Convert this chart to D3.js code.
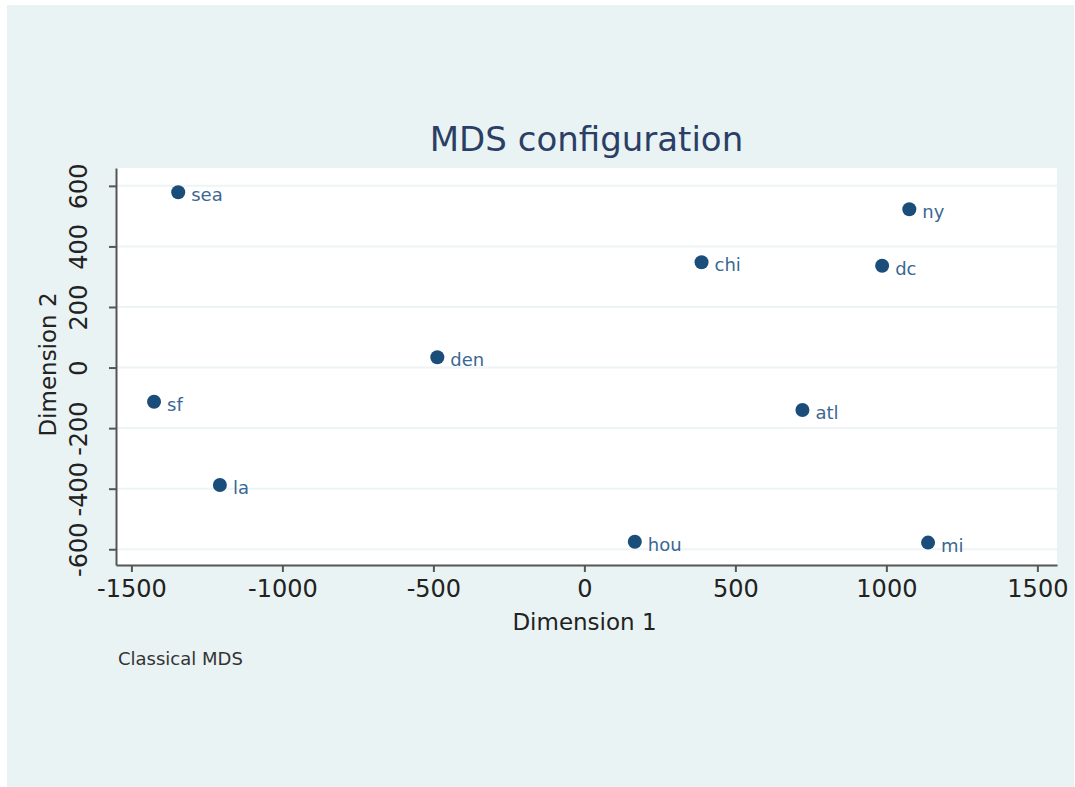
<!DOCTYPE html>
<html>
<head>
<meta charset="utf-8">
<script src="https://cdn.jsdelivr.net/npm/d3@7"></script>
<style>
  body { margin: 0; background: #ffffff; }
  text { font-family: "DejaVu Sans", sans-serif; }
</style>
</head>
<body>
<div id="chart"></div>
<script>
// MDS coordinates
var cities = ["sea", "sf", "la", "den", "chi", "ny", "dc", "atl", "hou", "mi"];
var dim1 = [-1345, -1425, -1207, -487, 388, 1076, 986, 722, 167, 1138];
var dim2 = [579, -113, -388, 34, 348, 523, 336, -140, -575, -578];

var xTicks = [-1500, -1000, -500, 0, 500, 1000, 1500];
var yTicks = [-600, -400, -200, 0, 200, 400, 600];

var w = 1075, h = 787;
var plot = {left: 116, right: 1057, top: 168, bottom: 565};

var svg = d3.select("#chart")
  .append("svg")
  .attr("width", w)
  .attr("height", h);

// outer graph region
svg.append("rect")
  .attr("x", 7).attr("y", 5)
  .attr("width", 1067).attr("height", 782)
  .style("fill", "#eaf3f3");

// plot region
svg.append("rect")
  .attr("x", plot.left).attr("y", plot.top)
  .attr("width", plot.right - plot.left)
  .attr("height", plot.bottom - plot.top)
  .style("fill", "#ffffff");

var x = d3.scaleLinear()
  .domain([-1551, 1565])
  .range([plot.left, plot.right]);

var y = d3.scaleLinear()
  .domain([-652, 659])
  .range([plot.bottom, plot.top]);

var fmt = function(d) { return String(d); };

// horizontal grid
svg.selectAll(".grid")
  .data(yTicks)
  .enter()
  .append("line")
  .attr("x1", plot.left).attr("x2", plot.right)
  .attr("y1", function(d) { return y(d); })
  .attr("y2", function(d) { return y(d); })
  .style("stroke", "#eef4f5")
  .style("stroke-width", 2);

// x axis
var xAxis = svg.append("g")
  .attr("transform", "translate(0," + plot.bottom + ")")
  .call(d3.axisBottom(x).tickValues(xTicks).tickFormat(fmt).tickSize(7).tickPadding(8).tickSizeOuter(0));
xAxis.select(".domain").style("stroke", "#555").style("stroke-width", 2);
xAxis.selectAll(".tick line").style("stroke", "#555").style("stroke-width", 2);
xAxis.selectAll(".tick text")
  .style("font-size", "24px")
  .style("fill", "#222")
  .style("font-family", "DejaVu Sans, sans-serif");

// y axis, labels rotated
var yAxis = svg.append("g")
  .attr("transform", "translate(" + plot.left + ",0)")
  .call(d3.axisLeft(y).tickValues(yTicks).tickFormat(fmt).tickSize(7).tickSizeOuter(0));
yAxis.select(".domain").style("stroke", "#555").style("stroke-width", 2);
yAxis.selectAll(".tick line").style("stroke", "#555").style("stroke-width", 2);
yAxis.selectAll(".tick text")
  .attr("x", null).attr("dy", null)
  .attr("transform", "translate(-37,0) rotate(-90)")
  .attr("text-anchor", "middle")
  .attr("dominant-baseline", "central")
  .style("font-size", "24px")
  .style("fill", "#222");

// titles
svg.append("text")
  .attr("x", (plot.left + plot.right) / 2)
  .attr("y", 151)
  .attr("text-anchor", "middle")
  .style("font-size", "34px")
  .style("fill", "#2b3f66")
  .text("MDS configuration");

svg.append("text")
  .attr("x", (plot.left + plot.right) / 2 - 2)
  .attr("y", 630)
  .attr("text-anchor", "middle")
  .style("font-size", "23px")
  .style("fill", "#222")
  .text("Dimension 1");

svg.append("text")
  .attr("transform", "translate(56," + ((plot.top + plot.bottom) / 2 - 2) + ") rotate(-90)")
  .attr("text-anchor", "middle")
  .style("font-size", "23px")
  .style("fill", "#222")
  .text("Dimension 2");

svg.append("text")
  .attr("x", 118)
  .attr("y", 665)
  .style("font-size", "18px")
  .style("fill", "#333")
  .text("Classical MDS");

// points
var pts = cities.map(function(c, i) {
  return {name: c, d1: dim1[i], d2: dim2[i]};
});

svg.selectAll(".pt")
  .data(pts)
  .enter()
  .append("circle")
  .attr("cx", function(d) { return x(d.d1); })
  .attr("cy", function(d) { return y(d.d2); })
  .attr("r", 7)
  .style("fill", "#1a4d7a");

svg.selectAll(".lbl")
  .data(pts)
  .enter()
  .append("text")
  .attr("x", function(d) { return x(d.d1) + 13; })
  .attr("y", function(d) { return y(d.d2) + 9; })
  .style("font-size", "18px")
  .style("fill", "#3a6893")
  .text(function(d) { return d.name; });
</script>
</body>
</html>
